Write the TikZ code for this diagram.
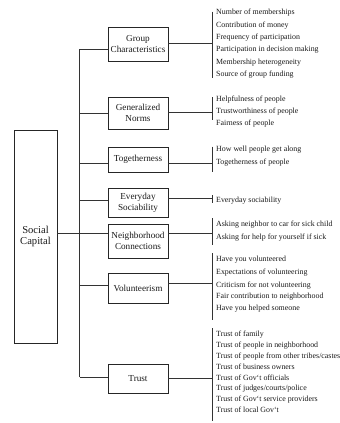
\documentclass[tikz,border=0pt]{standalone}
\usepackage{fontspec}
\setmainfont{Liberation Serif}
\begin{document}
\begin{tikzpicture}[x=1pt,y=-1pt,
  ln/.style={draw=black!80,line width=0.7pt},
  cat/.style={draw=black!85,line width=0.8pt,minimum width=60pt,inner sep=0pt,align=center,font=\fontsize{9.2}{11}\selectfont,text=black!90},
  item/.style={anchor=west,inner sep=0pt,font=\fontsize{7.9}{9.5}\selectfont,text height=5.5pt,text depth=1.7pt,text=black!90}]
\useasboundingbox (0,0) rectangle (340,423);
% main box
\node[cat,minimum width=43pt,minimum height=213pt,font=\fontsize{10.6}{11.7}\selectfont] (sc) at (35.5,236.5) {Social\\Capital};
% categories
\node[cat,minimum height=34pt] (gc) at (138,44) {Group\\Characteristics};
\node[cat,minimum height=32pt] (gn) at (138,113) {Generalized\\Norms};
\node[cat,minimum height=25pt] (tg) at (138,159.5) {Togetherness};
\node[cat,minimum height=29pt] (es) at (138,202.5) {Everyday\\Sociability};
\node[cat,minimum height=34pt] (nc) at (138,241) {Neighborhood\\Connections};
\node[cat,minimum height=30pt] (vo) at (138,288) {Volunteerism};
\node[cat,minimum height=29pt] (tr) at (138,378.5) {Trust};
% bus
\coordinate (b1) at (79.5,49);
\coordinate (b2) at (79.5,113);
\coordinate (b3) at (79.5,163);
\coordinate (b4) at (79.5,200);
\coordinate (b5) at (79.5,233);
\coordinate (b6) at (79.5,285);
\coordinate (b7) at (79.5,377);
\draw[ln] (b1) -- (b7);
\draw[ln] (sc.east |- b5) -- (b5);
\draw[ln] (b1) -- (b1 -| gc.west);
\draw[ln] (b2) -- (b2 -| gn.west);
\draw[ln] (b3) -- (b3 -| tg.west);
\draw[ln] (b4) -- (b4 -| es.west);
\draw[ln] (b5) -- (b5 -| nc.west);
\draw[ln] (b6) -- (b6 -| vo.west);
\draw[ln] (b7) -- (b7 -| tr.west);
% brackets: name / connector y / top / bottom
\foreach \n/\src/\h/\t/\b in {k1/gc/43/11.7/78.3, k2/gn/112/97/120, k3/tg/163/146.7/171.7, k4/es/198.5/195/202.5, k5/nc/233/218/245, k6/vo/283/253.3/320, k7/tr/378/328.3/421}{
  \coordinate (\n t) at (212,\t);
  \coordinate (\n b) at (212,\b);
  \coordinate (\n h) at (212,\h);
  \draw[ln] (\n t) -- (\n b);
  \draw[ln] (\n h -| \src.east) -- (\n h);
}
% items
\foreach \y/\txt [count=\i] in {13/{Number of memberships}, 25.4/{Contribution of money}, 37.7/{Frequency of participation}, 50/{Participation in decision making}, 62.4/{Membership heterogeneity}, 74.8/{Source of group funding},
  100/{Helpfulness of people}, 111.7/{Trustworthiness of people}, 123.3/{Fairness of people},
  150/{How well people get along}, 162.7/{Togetherness of people},
  200.5/{Everyday sociability},
  225/{Asking neighbor to car for sick child}, 237.5/{Asking for help for yourself if sick},
  260/{Have you volunteered}, 272.3/{Expectations of volunteering}, 285.3/{Criticism for not volunteering}, 296.8/{Fair contribution to neighborhood}, 309/{Have you helped someone},
  335/{Trust of family}, 345.8/{Trust of people in neighborhood}, 356.6/{Trust of people from other tribes/castes}, 367.4/{Trust of business owners}, 378.2/{Trust of Gov`t officials}, 389/{Trust of judges/courts/police}, 399.8/{Trust of Gov`t service providers}, 410.6/{Trust of local Gov`t}}{
  \node[item] (it\i) at (216,\y) {\txt};
}
\end{tikzpicture}
\end{document}
